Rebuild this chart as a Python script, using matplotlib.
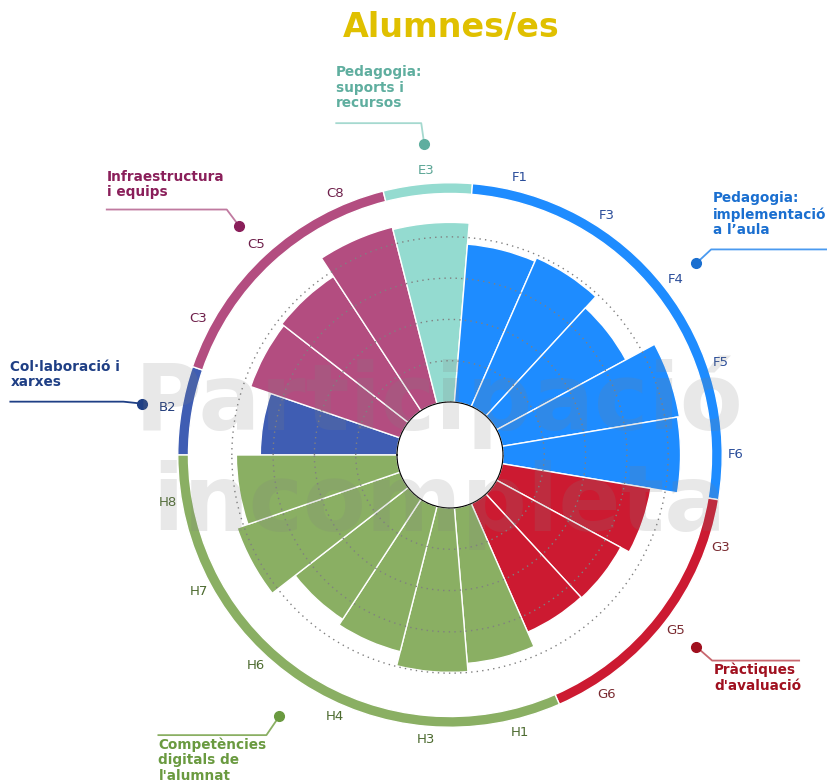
import numpy as np
import matplotlib
matplotlib.use('Agg')
import matplotlib.pyplot as plt
from matplotlib.lines import Line2D

# indicator codes, clockwise from the left horizontal
codes = ['B2', 'C3', 'C5', 'C8', 'E3', 'F1', 'F3', 'F4', 'F5', 'F6',
         'G3', 'G5', 'G6', 'H1', 'H3', 'H4', 'H6', 'H7', 'H8']
values = [3.31, 3.82, 3.88, 4.41, 4.35, 3.84, 3.93, 3.56, 4.35, 4.30,
          3.65, 3.42, 3.40, 3.78, 3.98, 3.63, 3.47, 4.17, 3.89]

groups = ['B', 'C', 'E', 'F', 'G', 'H']
group_names = ['Col·laboració i\nxarxes',
               'Infraestructura\ni equips',
               'Pedagogia:\nsuports i\nrecursos',
               'Pedagogia:\nimplementació\na l’aula',
               'Pràctiques\nd\'avaluació',
               'Competències\ndigitals de\nl\'alumnat']
bar_colors = ['#3f5db3', '#b34d80', '#94dbd0', '#1e8cff', '#cc1a31', '#8aaf63']
label_colors = ['#1f3a7a', '#6e1f4a', '#5aa595', '#2a4d9a', '#7a2a30', '#4d6b30']
title_colors = ['#1f3f85', '#8a1f5a', '#5fae9f', '#1a6fd0', '#a0101f', '#6a9a40']
line_colors = ['#1f3f85', '#c07aa0', '#a5d9cf', '#4a9af0', '#c8676f', '#8aaf63']

plt.rcParams['font.family'] = ['DejaVu Sans']

fig = plt.figure(figsize=(8.28, 7.82), dpi=100)
ax = fig.add_axes([0.19022, 0.04412, 0.70652, 0.74808], projection='polar')
ax.set_theta_zero_location('W')
ax.set_theta_direction(-1)

n = len(codes)
w = 2 * np.pi / n
theta = (np.arange(n) + 0.5) * w
gidx = [groups.index(c[0]) for c in codes]
cols = [bar_colors[g] for g in gidx]

ax.bar(theta, values, width=w, bottom=0, color=cols,
       edgecolor='white', linewidth=1)

# outer ring per group
ring_r = 5.05
ring_h = 0.26
for g in range(len(groups)):
    idx = [i for i in range(n) if gidx[i] == g]
    start = idx[0] * w
    span = len(idx) * w
    ax.bar(start + span / 2, ring_h, width=span, bottom=ring_r,
           color=bar_colors[g], edgecolor='white', linewidth=1)

# indicator labels
for i in range(n):
    ax.text(theta[i], 5.64, codes[i], ha='center', va='center',
            fontsize=9.5, color=label_colors[gidx[i]])

ax.set_rorigin(-1.283)
ax.set_ylim(0, 5.8)
ax.set_yticks([0, 1, 2, 3, 4])
ax.set_yticklabels([])
ax.set_xticks([])
ax.yaxis.grid(True, color='#808080', linestyle=(0, (1, 3)), linewidth=1)
ax.xaxis.grid(False)
ax.spines['polar'].set_visible(False)
ax.spines['inner'].set_visible(False)
ax.set_facecolor('none')

# group annotations: (line points relative to dot, text anchor) in pixels, y down
ann = {
    'B': ([(-19, -2), (-132, -2)], (-132, -44)),
    'C': ([(-12, -16), (-132, -16)], (-132, -56)),
    'E': ([(-3, -21), (-88, -21)], (-88, -79)),
    'F': ([(15, -14), (131, -14)], (17, -72)),
    'G': ([(16, 14), (103, 14)], (18, 16)),
    'H': ([(-13, 19), (-121, 19)], (-121, 21)),
}
dot_r = 6.27
fig.canvas.draw()
W, H = fig.bbox.width, fig.bbox.height
for g, key in enumerate(groups):
    idx = [i for i in range(n) if gidx[i] == g]
    tc = (idx[0] + len(idx) / 2) * w
    px, py = ax.transData.transform((tc, dot_r))
    pts, (tx, ty) = ann[key]
    xs = [px] + [px + p[0] for p in pts]
    ys = [py] + [py - p[1] for p in pts]
    fig.add_artist(Line2D(np.array(xs) / W, np.array(ys) / H,
                          transform=fig.transFigure, color=line_colors[g], lw=1.3))
    fig.add_artist(Line2D([px / W], [py / H], transform=fig.transFigure,
                          marker='o', markersize=7, color=title_colors[g], lw=0))
    fig.text((px + tx) / W, (py - ty) / H, group_names[g], ha='left', va='top',
             fontsize=9.8, fontweight='bold', color=title_colors[g],
             linespacing=1.15)

fig.text(451 / 828, 1 - 37 / 782, 'Alumnes/es', ha='center', va='baseline',
         fontsize=24, fontweight='bold', color='#e0c000')

fig.text(439 / 828, 1 - 453 / 782, 'Participació\nincompleta', ha='center',
         va='center', fontsize=66, fontweight='bold', color='#808080',
         alpha=0.18, linespacing=1.15)

fig.savefig('out.png', dpi=100)
